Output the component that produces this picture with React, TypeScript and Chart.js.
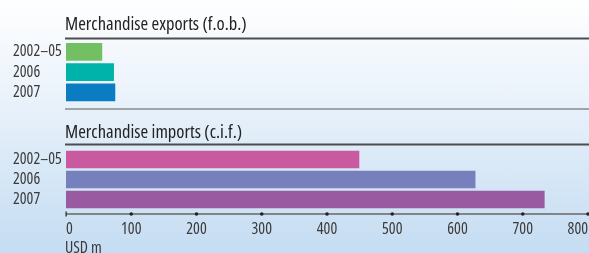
import React, { useEffect, useRef } from "react";
import { Chart, registerables } from "chart.js";

Chart.register(...registerables);

const categories = ["2002–05", "2006", "2007"];
const exportValues = [55, 73, 75];
const importValues = [449, 627, 733];
const exportTitle = "Merchandise exports (f.o.b.)";
const importTitle = "Merchandise imports (c.i.f.)";
const axisUnit = "USD m";
const xMin = 0;
const xMax = 800;
const xStep = 100;

const exportColors = ["#73c064", "#00b3aa", "#0a7cc1"];
const importColors = ["#c95a9f", "#7580bd", "#9a5aa2"];

const FAMILY = '"Open Sans", "Noto Sans", sans-serif';
const STRETCH = "condensed";
const TEXT = "#3a3a3a";

function decorPlugin(id: string, title: string, titleBaseline: number, lineY: number, extra?: (chart: any) => void) {
  return {
    id,
    afterDraw(chart: any) {
      const ctx = chart.ctx;
      ctx.save();
      ctx.fillStyle = "#222";
      ctx.font = `${STRETCH} 18.5px ${FAMILY}`;
      ctx.textAlign = "left";
      ctx.textBaseline = "alphabetic";
      ctx.fillText(title, 65, titleBaseline);
      ctx.strokeStyle = "#4d4d4d";
      ctx.lineWidth = 2;
      ctx.beginPath();
      ctx.moveTo(65, lineY);
      ctx.lineTo(chart.width, lineY);
      ctx.stroke();
      ctx.restore();
      if (extra) extra(chart);
    },
  };
}

function makeChart(canvas: HTMLCanvasElement, values: number[], colors: string[], top: number, bottom: number, showAxis: boolean, plugin: any) {
  return new Chart(canvas, {
    type: "bar",
    data: {
      labels: categories,
      datasets: [
        {
          data: values,
          backgroundColor: colors,
          borderWidth: 0,
          barThickness: 17,
        },
      ],
    },
    options: {
      indexAxis: "y",
      animation: false,
      responsive: false,
      maintainAspectRatio: false,
      layout: { padding: { left: 13, right: 17, top, bottom: showAxis ? 0 : bottom } },
      plugins: { legend: { display: false }, tooltip: { enabled: false }, title: { display: false } },
      scales: {
        x: {
          display: showAxis,
          min: xMin,
          max: xMax,
          grid: { display: false, drawTicks: false },
          border: { display: false },
          ticks: {
            stepSize: xStep,
            padding: 10.5,
            align: "inner",
            color: TEXT,
            font: { family: FAMILY, size: 16, weight: STRETCH as any },
            maxRotation: 0,
            autoSkip: false,
          },
          afterFit: (scale: any) => {
            scale.height = bottom;
            scale.paddingLeft = 0;
            scale.paddingRight = 0;
          },
        },
        y: {
          grid: { display: false, drawTicks: false },
          border: { display: false },
          ticks: {
            crossAlign: "far",
            color: TEXT,
            font: { family: FAMILY, size: 16, weight: STRETCH as any },
            padding: 0,
            autoSkip: false,
          },
          afterFit: (scale: any) => {
            scale.width = 53;
            scale.paddingTop = 0;
            scale.paddingBottom = 0;
          },
        },
      },
    },
    plugins: [plugin],
  });
}

export default function App() {
  const topRef = useRef<HTMLCanvasElement>(null);
  const botRef = useRef<HTMLCanvasElement>(null);

  useEffect(() => {
    const topPlugin = decorPlugin("decorTop", exportTitle, 29.5, 38.5, (chart: any) => {
      const ctx = chart.ctx;
      ctx.save();
      ctx.strokeStyle = "#8a8a8a";
      ctx.lineWidth = 1.5;
      ctx.beginPath();
      ctx.moveTo(65, 109);
      ctx.lineTo(chart.width, 109);
      ctx.stroke();
      ctx.restore();
    });
    const botPlugin = decorPlugin("decorBot", importTitle, 28, 34.5, (chart: any) => {
      const ctx = chart.ctx;
      const xs = chart.scales.x;
      const y = chart.chartArea.bottom + 4.5;
      ctx.save();
      ctx.strokeStyle = "#666";
      ctx.lineWidth = 1.5;
      ctx.beginPath();
      ctx.moveTo(xs.getPixelForValue(xMin), y);
      ctx.lineTo(chart.width, y);
      ctx.stroke();
      ctx.fillStyle = "#222";
      xs.ticks.forEach((t: any) => {
        const px = xs.getPixelForValue(t.value);
        if (t.value === xMin) {
          ctx.fillRect(px - 0.5, y - 2.5, 1.2, 5);
        } else {
          ctx.beginPath();
          ctx.arc(px, y, 1.8, 0, Math.PI * 2);
          ctx.fill();
        }
      });
      ctx.fillStyle = TEXT;
      ctx.font = `${STRETCH} 16px ${FAMILY}`;
      ctx.textAlign = "left";
      ctx.textBaseline = "top";
      ctx.fillText(axisUnit, 65, 130.5);
      ctx.restore();
    });
    const c1 = makeChart(topRef.current!, exportValues, exportColors, 41.75, 3.75, false, topPlugin);
    const c2 = makeChart(botRef.current!, importValues, importColors, 39.5, 43.5, true, botPlugin);
    return () => {
      c1.destroy();
      c2.destroy();
    };
  }, []);

  return (
    <div
      style={{
        position: "fixed",
        left: 0,
        top: 0,
        width: 589,
        height: 253,
        overflow: "hidden",
        background: "linear-gradient(to bottom, #ffffff 0%, #f4f8fd 20%, #e6f0fa 45%, #d6e7f6 70%, #c5dcf2 100%)",
      }}
    >
      <canvas ref={topRef} width={605} height={110} style={{ position: "absolute", left: 0, top: 0, width: 605, height: 110 }} />
      <canvas ref={botRef} width={605} height={143} style={{ position: "absolute", left: 0, top: 110, width: 605, height: 143 }} />
    </div>
  );
}
